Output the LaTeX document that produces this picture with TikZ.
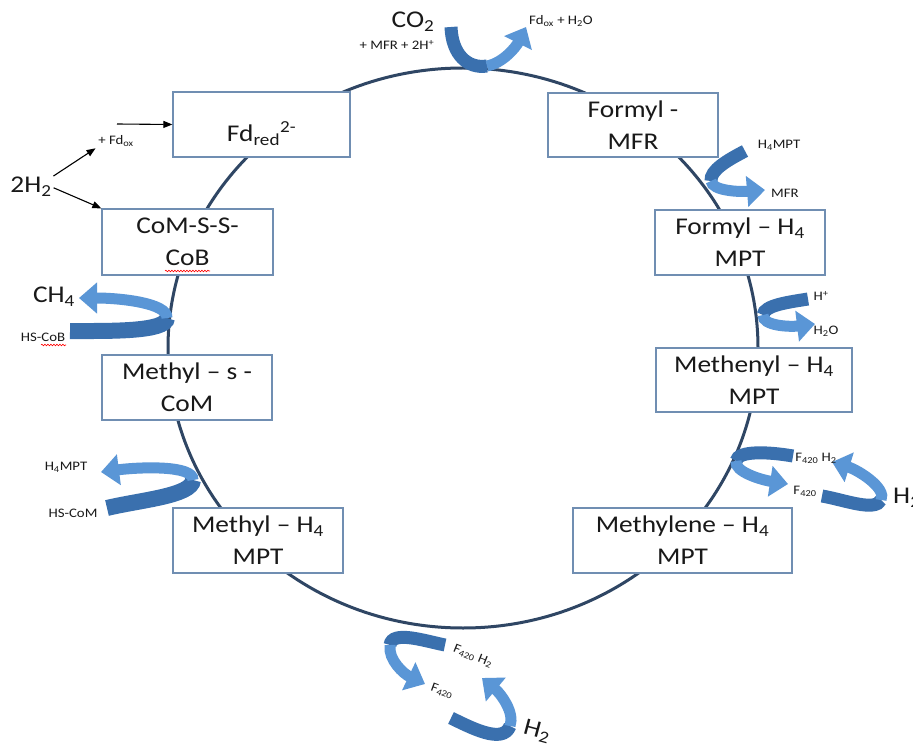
\documentclass[tikz,border=0pt]{standalone}
\usepackage{fontspec}
\setmainfont{Carlito}[FakeStretch=1.14]
\usetikzlibrary{arrows.meta,decorations.pathmorphing}
\definecolor{circc}{RGB}{47,70,100}
\definecolor{boxc}{RGB}{112,142,178}
\definecolor{adark}{RGB}{58,112,174}
\definecolor{alight}{RGB}{90,150,214}
\definecolor{txt}{RGB}{25,25,25}
\tikzset{
  box/.style={draw=boxc, line width=1.3pt, fill=white, align=center, inner sep=0pt, text=txt, font=\fontsize{24}{32}\selectfont},
  lbl/.style={font=\fontsize{13}{15}\selectfont, inner sep=0pt, text=txt},
  big/.style={font=\fontsize{24}{28}\selectfont, inner sep=0pt, text=txt},
  bdark/.style={draw=adark, line width=13pt},
  blight/.style={draw=alight, line width=11pt, -{Triangle[width=30pt,length=18pt]}},
  blk/.style={draw=black, line width=1.1pt, -{Triangle[width=7pt,length=9pt]}},
  squig/.style={draw=red, line width=0.6pt, decorate, decoration={snake, amplitude=0.8pt, segment length=3pt}}
}
\begin{document}
\begin{tikzpicture}[x=1pt,y=-1pt]
\useasboundingbox[fill=white] (0,0) rectangle (913,746);
% cycle
\draw[circc, line width=3pt] (463,348) ellipse [x radius=295, y radius=280];
% boxes
\node[box, minimum width=177pt, minimum height=65pt, text height=34pt, text depth=0pt] (fd) at (261.5,124.5) {Fd\textsubscript{red}\textsuperscript{2-}};
\node[box, minimum width=170pt, minimum height=64pt] (fmfr) at (633,125) {Formyl -\\MFR};
\node[box, minimum width=171pt, minimum height=66pt] (com) at (187.5,242) {CoM-S-S-\\CoB};
\node[box, minimum width=170pt, minimum height=65pt] (fh4) at (740,242.5) {Formyl – H\textsubscript{4}\\MPT};
\node[box, minimum width=170pt, minimum height=65pt] (mscom) at (187,387.5) {Methyl – s -\\CoM};
\node[box, minimum width=196pt, minimum height=64pt] (meth) at (754,380) {Methenyl – H\textsubscript{4}\\MPT};
\node[box, minimum width=170pt, minimum height=65pt] (mh4) at (258,540.5) {Methyl – H\textsubscript{4}\\MPT};
\node[box, minimum width=219pt, minimum height=65pt] (mlene) at (682.5,540.5) {Methylene – H\textsubscript{4}\\MPT};
% spell-check squiggles
\draw[squig] (165,271) -- (210,271);
\draw[squig] (41,345) -- (66,345);
% block arrows
\draw[bdark] (451,27) .. controls (452,55) and (468,69) .. (487,66);
\draw[blight] (487,66) .. controls (503,63) and (516,47) .. (526,27);
\draw[bdark] (745,151) .. controls (728,160) and (710,170) .. (711,181);
\draw[blight] (711,181) .. controls (712,191) and (740,192) .. (765,190);
\draw[bdark] (808,299) .. controls (790,302) and (764,305) .. (763,315);
\draw[blight] (763,315) .. controls (762,326) and (790,327) .. (815,324);
\draw[bdark] (793,456) .. controls (770,452) and (738,450) .. (736,461);
\draw[blight] (736,461) .. controls (734,472) and (762,480) .. (788,484);
\draw[bdark] (822,496) .. controls (845,500) and (875,512) .. (881,500);
\draw[blight] (881,500) .. controls (887,488) and (858,470) .. (832,462);
\draw[bdark] (445,645) .. controls (425,641) and (392,630) .. (390,645);
\draw[blight] (390,645) .. controls (388,660) and (404,674) .. (425,684);
\draw[bdark] (451,718) .. controls (470,727) and (503,745) .. (510,726);
\draw[blight] (510,726) .. controls (515,712) and (500,693) .. (482,678);
\draw[bdark, line width=16pt] (70,331) .. controls (110,331) and (166,332) .. (167,318);
\draw[blight] (167,318) .. controls (168,303) and (120,298) .. (79,298);
\draw[bdark, line width=16pt] (107,508) .. controls (140,500) and (192,496) .. (193,480);
\draw[blight] (193,480) .. controls (194,465) and (140,467) .. (101,472);
% labels
\node[big] (co2) at (413,22) {CO\textsubscript{2}};
\node[lbl] (mfr2h) at (397,45) {+ MFR + 2H\textsuperscript{+}};
\node[lbl] (fdh2o) at (561,21) {Fd\textsubscript{ox} + H\textsubscript{2}O};
\node[lbl] (h4a) at (779,145) {H\textsubscript{4}MPT};
\node[lbl] (mfr) at (785,193) {MFR};
\node[lbl] (hp) at (821,296) {H\textsuperscript{+}};
\node[lbl] (h2o) at (826,331) {H\textsubscript{2}O};
\node[lbl] (f420h2a) at (816,458) {F\textsubscript{420} H\textsubscript{2}};
\node[lbl] (f420a) at (805,491) {F\textsubscript{420}};
\node[big, anchor=west] (h2r) at (893,498) {H\textsubscript{2}};
\node[lbl, rotate=-22] (f420h2b) at (473,656) {F\textsubscript{420} H\textsubscript{2}};
\node[lbl, rotate=-20] (f420b) at (442,691) {F\textsubscript{420}};
\node[big, rotate=-15] (h2b) at (537,731) {H\textsubscript{2}};
\node[big] (ch4) at (54,297) {CH\textsubscript{4}};
\node[lbl] (hscob) at (43,337) {HS-CoB};
\node[lbl] (h4b) at (66,467) {H\textsubscript{4}MPT};
\node[lbl] (hscom) at (73,513) {HS-CoM};
\node[big] (h2l) at (31,187) {2H\textsubscript{2}};
\node[lbl] (fdox) at (116,141) {+ Fd\textsubscript{ox}};
% thin arrows
\coordinate (fdin) at (117,124);
\draw[blk] (fdin) -- (fd.west);
\draw[blk, shorten <=2pt, shorten >=3pt] (h2l.north east) -- (fdox.south west);
\draw[blk, shorten <=2pt] (h2l.east) -- (com.north west);
\end{tikzpicture}
\end{document}
